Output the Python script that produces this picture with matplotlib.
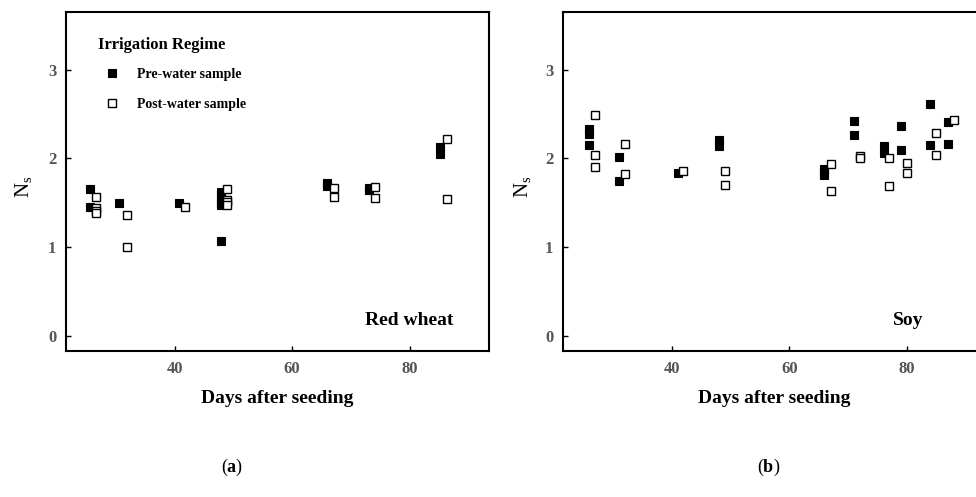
import matplotlib
matplotlib.use("Agg")
import matplotlib.pyplot as plt

plt.rcParams['font.family'] = ['Liberation Serif', 'DejaVu Serif']
plt.rcParams['mathtext.fontset'] = 'custom'
plt.rcParams['mathtext.rm'] = 'Liberation Serif'
plt.rcParams['mathtext.it'] = 'Liberation Serif:italic'
plt.rcParams['mathtext.bf'] = 'Liberation Serif:bold'

# red wheat
wheat_pre_days = [25.5, 25.5, 30.6, 40.7, 47.8, 47.8, 47.8, 47.8, 47.8, 66, 66, 73, 73, 85.2, 85.2]
wheat_pre_ns = [1.655, 1.45, 1.50, 1.50, 1.62, 1.56, 1.51, 1.47, 1.075, 1.72, 1.69, 1.67, 1.64, 2.13, 2.05]
wheat_post_days = [26.6, 26.6, 26.6, 26.6, 31.8, 31.8, 41.8, 48.9, 48.9, 48.9, 48.9, 67.1, 67.1, 74.1, 74.1, 86.3, 86.3]
wheat_post_ns = [1.56, 1.44, 1.41, 1.385, 1.36, 1.0, 1.45, 1.655, 1.53, 1.51, 1.47, 1.67, 1.57, 1.68, 1.55, 2.22, 1.54]

# soy
soy_pre_days = [26, 26, 26, 31, 31, 41, 48, 48, 66, 66, 66, 71, 71, 76.1, 76.1, 79, 79, 84, 84, 87, 87]
soy_pre_ns = [2.33, 2.28, 2.15, 2.02, 1.74, 1.84, 2.21, 2.14, 1.88, 1.85, 1.81, 2.42, 2.26, 2.14, 2.06, 2.37, 2.10, 2.61, 2.15, 2.41, 2.16]
soy_post_days = [27, 27, 27, 32.1, 32.1, 42, 49, 49, 67.1, 67.1, 72, 72, 77, 77, 80, 80, 85, 85, 88]
soy_post_ns = [2.49, 2.04, 1.90, 2.16, 1.83, 1.86, 1.86, 1.70, 1.94, 1.63, 2.03, 2.01, 2.0, 1.69, 1.95, 1.84, 2.29, 2.04, 2.43]

x_ticks = [40, 60, 80]
y_ticks = [0, 1, 2, 3]

fig = plt.figure(figsize=(9.76, 4.97), dpi=100)
ax1 = fig.add_axes([66 / 976, 1 - 351 / 497, 423 / 976, 339 / 497])
ax2 = fig.add_axes([563 / 976, 1 - 351 / 497, 423 / 976, 339 / 497])

panels = [
    (ax1, wheat_pre_days, wheat_pre_ns, wheat_post_days, wheat_post_ns, "Red wheat", 0.915, -0.076, "a", 232),
    (ax2, soy_pre_days, soy_pre_ns, soy_post_days, soy_post_ns, "Soy", 0.851, -0.071, "b", 769),
]

for ax, pre_x, pre_y, post_x, post_y, crop, crop_x, ylab_x, letter, letter_px in panels:
    ax.plot(pre_x, pre_y, 's', color='black', ms=5.6, mew=0.8, ls='none', label="Pre-water sample")
    ax.plot(post_x, post_y, 's', mfc='white', mec='black', ms=5.6, mew=1.0, ls='none', label="Post-water sample")
    ax.set_xlim(21.5, 93.5)
    ax.set_ylim(-0.17, 3.65)
    ax.set_xticks(x_ticks)
    ax.set_yticks(y_ticks)
    ax.tick_params(direction='in', length=3.5, width=1, color='black',
                   labelcolor='#555555', labelsize=12, pad=7)
    for lab in ax.get_xticklabels() + ax.get_yticklabels():
        lab.set_fontweight('bold')
    for sp in ax.spines.values():
        sp.set_linewidth(1.5)
    ax.set_xlabel("Days after seeding", fontsize=14, fontweight='bold')
    ax.xaxis.set_label_coords(0.5, -0.115)
    ax.set_ylabel(r"N$_{\mathrm{s}}$", fontsize=15)
    ax.yaxis.set_label_coords(ylab_x, 0.484)
    ax.text(crop_x, 0.09, crop, transform=ax.transAxes, ha='right', va='center',
            fontsize=14, fontweight='bold')
    fig.text(letter_px / 976, 1 - 467 / 497, r"($\mathbf{" + letter + r"}$)",
             ha='center', va='center', fontsize=13)

ax1.text(0.0757, 0.903, "Irrigation Regime", transform=ax1.transAxes,
         ha='left', va='center', fontsize=12, fontweight='bold')
ax1.legend(loc='upper left', bbox_to_anchor=(0.092, 0.835), borderaxespad=0, borderpad=0,
           frameon=False, handlelength=1.0, handletextpad=1.3, labelspacing=1.2,
           prop={'size': 10, 'weight': 'bold'})

fig.savefig("out.png", dpi=100)
